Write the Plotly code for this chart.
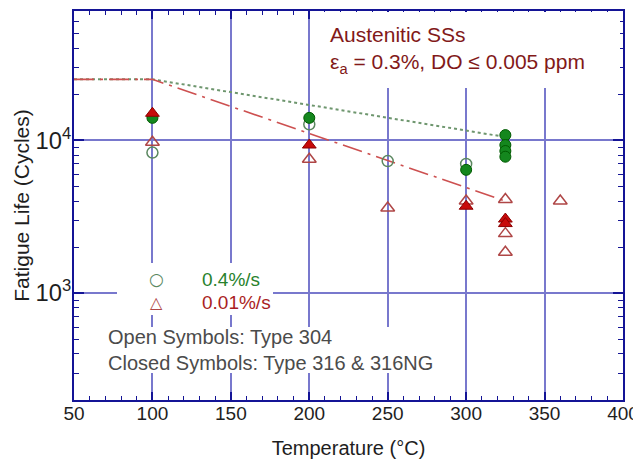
import plotly.graph_objects as go

# ---- data ----
t_fast_open = [100, 200, 250, 300]
n_fast_open = [8300, 12700, 7300, 7000]
t_fast_closed = [100, 200, 300, 325, 325, 325, 325]
n_fast_closed = [14000, 14000, 6400, 10800, 9300, 8500, 7800]
t_slow_open = [100, 200, 250, 300, 325, 325, 325, 360]
n_slow_open = [9700, 7500, 3600, 4000, 4100, 2450, 1850, 4000]
t_slow_closed = [100, 200, 300, 325, 325]
n_slow_closed = [15000, 9300, 3700, 3050, 2850]
t_trend = [50, 100, 325]
n_trend_fast = [25000, 25000, 10500]
n_trend_slow = [25000, 25000, 4000]

GREEN = "rgb(20,135,30)"
GREEN_OPEN = "rgb(90,135,95)"
RED = "rgb(200,10,10)"
RED_OPEN = "rgb(175,70,70)"
NAVY = "rgb(20,20,150)"
GRID = "rgb(120,120,205)"
FONT = "Liberation Sans, Arial, sans-serif"

fig = go.Figure()
fig.add_trace(go.Scatter(x=t_trend, y=n_trend_fast, mode="lines",
                         line=dict(color="rgb(110,150,110)", width=2, dash="dot")))
fig.add_trace(go.Scatter(x=t_trend, y=n_trend_slow, mode="lines",
                         line=dict(color="rgb(205,80,80)", width=1.6, dash="20px,6px,3px,6px")))
fig.add_trace(go.Scatter(x=t_fast_open, y=n_fast_open, mode="markers",
                         marker=dict(symbol="circle-open", size=11, color=GREEN_OPEN,
                                     line=dict(width=1.5))))
fig.add_trace(go.Scatter(x=t_slow_open, y=n_slow_open, mode="markers",
                         marker=dict(symbol="triangle-up-open", size=12, color=RED_OPEN,
                                     line=dict(width=1.5))))
fig.add_trace(go.Scatter(x=t_fast_closed, y=n_fast_closed, mode="markers",
                         marker=dict(symbol="circle", size=11, color=GREEN,
                                     line=dict(width=1, color="rgb(0,90,0)"))))
fig.add_trace(go.Scatter(x=t_slow_closed, y=n_slow_closed, mode="markers",
                         marker=dict(symbol="triangle-up", size=12, color=RED,
                                     line=dict(width=1, color="rgb(140,0,0)"))))

# white boxes (px size) that break the grid behind the text blocks
for cx, cy, w, h in [(0.7168, 0.8997, 305, 76),
                     (0.2204, 0.2853, 156, 52),
                     (0.357, 0.1285, 340, 46)]:
    fig.add_annotation(xref="paper", yref="paper", x=cx, y=cy, xanchor="center", yanchor="middle",
                       showarrow=False, text=" ",
                       width=w, height=h, bgcolor="white", borderpad=0, borderwidth=0)

fig.add_annotation(xref="paper", yref="paper", x=0.463, y=0.975, xanchor="left", yanchor="top",
                   align="left", showarrow=False,
                   text="Austenitic SSs<br>ε<sub>a</sub> = 0.3%, DO ≤ 0.005 ppm",
                   font=dict(family=FONT, size=21, color="rgb(130,25,25)"))
fig.add_annotation(xref="paper", yref="paper", x=0.151, y=0.311, xanchor="center", yanchor="middle",
                   showarrow=False,
                   text="○", font=dict(family="DejaVu Sans", size=17, color=GREEN_OPEN))
fig.add_annotation(xref="paper", yref="paper", x=0.151, y=0.250, xanchor="center", yanchor="middle",
                   showarrow=False,
                   text="△", font=dict(family="DejaVu Sans", size=16, color=RED_OPEN))
fig.add_annotation(xref="paper", yref="paper", x=0.229, y=0.311, xanchor="left", yanchor="middle",
                   showarrow=False,
                   text="0.4%/s", font=dict(family=FONT, size=19, color="rgb(40,130,45)"))
fig.add_annotation(xref="paper", yref="paper", x=0.229, y=0.250, xanchor="left", yanchor="middle",
                   showarrow=False,
                   text="0.01%/s", font=dict(family=FONT, size=19, color="rgb(170,30,35)"))
fig.add_annotation(xref="paper", yref="paper", x=0.058, y=0.128, xanchor="left", yanchor="middle",
                   showarrow=False, align="left",
                   text="Open Symbols: Type 304<br>Closed Symbols: Type 316 & 316NG",
                   font=dict(family=FONT, size=20, color="rgb(75,75,75)"))

# page body adds an 8px margin, so the figure is 8px smaller and margins shifted
fig.update_layout(
    width=633, height=455,
    margin=dict(l=66, r=18, t=3, b=63),
    paper_bgcolor="white", plot_bgcolor="white",
    showlegend=False,
    font=dict(family=FONT, color="rgb(30,30,30)"),
)
fig.update_xaxes(
    range=[50, 400], dtick=50, tick0=50, automargin=False,
    showline=True, linecolor=NAVY, linewidth=2, mirror="allticks",
    ticks="inside", ticklen=8, tickwidth=1.5, tickcolor=NAVY,
    minor=dict(ticks="inside", dtick=10, ticklen=4, tickwidth=1.2, tickcolor=NAVY, showgrid=False),
    showgrid=True, gridcolor=GRID, gridwidth=1.5, zeroline=False,
    tickfont=dict(family=FONT, size=19, color="rgb(30,30,30)"),
    ticklabelstandoff=-5, ticklabeloverflow="allow",
    title=dict(text="Temperature (°C)", font=dict(family=FONT, size=20), standoff=18),
)
fig.update_yaxes(
    type="log", range=[2.301, 4.845], dtick=1, tick0=0, exponentformat="power", automargin=False,
    showline=True, linecolor=NAVY, linewidth=2, mirror="allticks",
    ticks="inside", ticklen=10, tickwidth=1.5, tickcolor=NAVY,
    minor=dict(ticks="inside", dtick="D1", ticklen=5, tickwidth=1.2, tickcolor=NAVY, showgrid=False),
    showgrid=True, gridcolor=GRID, gridwidth=1.5, zeroline=False,
    tickfont=dict(family=FONT, size=19, color="rgb(30,30,30)"),
    ticklabelstandoff=-3,
    title=dict(text="Fatigue Life (Cycles)", font=dict(family=FONT, size=21), standoff=0),
)

fig.write_html("out.html")
